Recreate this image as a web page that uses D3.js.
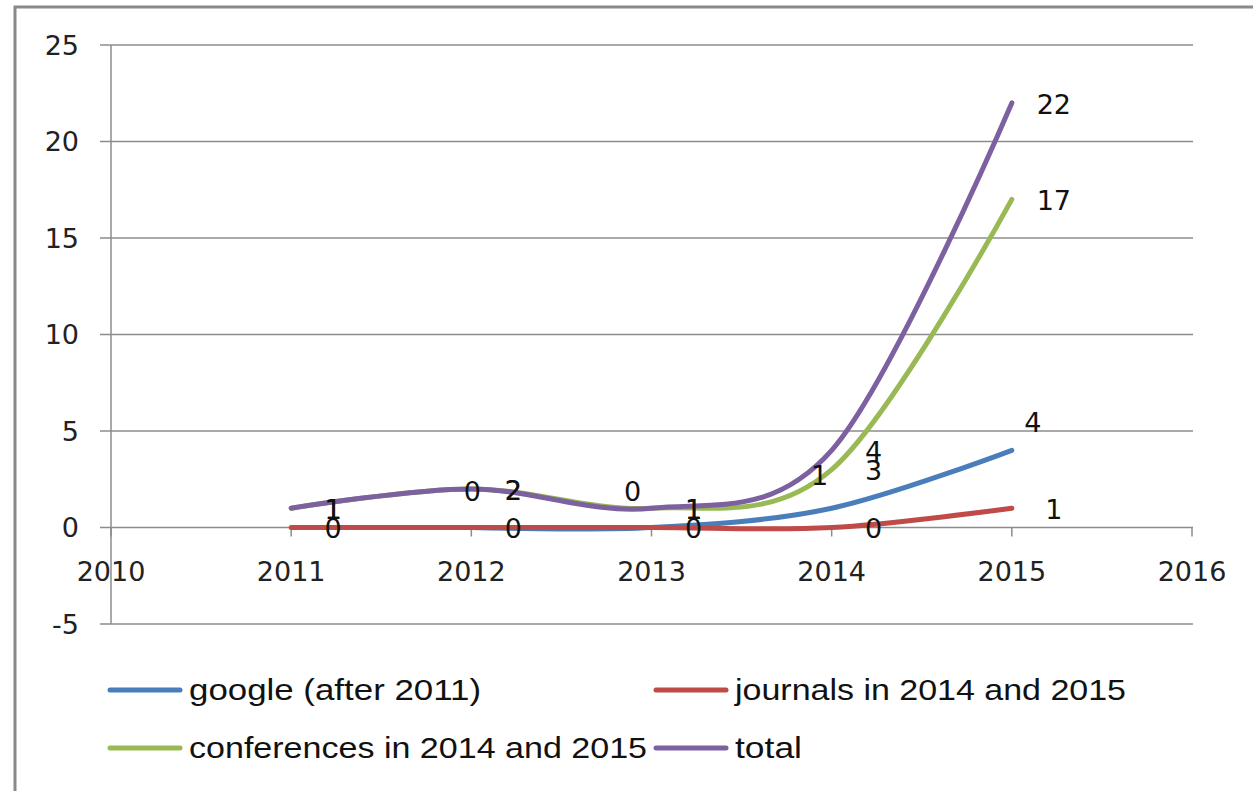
<!DOCTYPE html>
<html><head><meta charset="utf-8">
<script src="https://cdn.jsdelivr.net/npm/d3@7"></script>
<style>body{margin:0;background:#fff}svg{display:block}</style>
</head><body><svg id="c" width="1253" height="791"></svg>
<script>
const xTicks = [2010, 2011, 2012, 2013, 2014, 2015, 2016];
const yTicks = [-5, 0, 5, 10, 15, 20, 25];
const seriesNames = ["google (after 2011)", "journals in 2014 and 2015", "conferences in 2014 and 2015", "total"];
const seriesColors = ["#4a7ebb", "#be4b48", "#98b954", "#7d60a0"];
const googleYears = [2012, 2013, 2014, 2015];
const googleValues = [0, 0, 1, 4];
const journalsYears = [2011, 2012, 2013, 2014, 2015];
const journalsValues = [0, 0, 0, 0, 1];
const conferencesYears = [2011, 2012, 2013, 2014, 2015];
const conferencesValues = [1, 2, 1, 3, 17];
const totalYears = [2011, 2012, 2013, 2014, 2015];
const totalValues = [1, 2, 1, 4, 22];

// label offsets (pixel nudges, styling only)
const googleLabelOffsets = [[1,-36],[-19,-36],[-12,-33],[21,-28]];
const rightOffset = [42, 1];

const svg = d3.select("#c");
const W = 1253, H = 791;
const x = d3.scaleLinear().domain([2010, 2016]).range([111, 1192]);
const y = d3.scaleLinear().domain([-5, 25]).range([624, 45]);
const numFont = "'DejaVu Sans', sans-serif";

// frame
svg.append("path").attr("d", `M15,${H} L15,7 L${W},7`).attr("fill","none").attr("stroke","#8a8a8a").attr("stroke-width",3);

// gridlines
svg.append("g").selectAll("line").data(yTicks).join("line")
  .attr("x1", 100).attr("x2", 1193).attr("y1", d => y(d)).attr("y2", d => y(d))
  .attr("stroke", "#8c8c8c").attr("stroke-width", 1.5);
// y axis line
svg.append("line").attr("x1", x(2010)).attr("x2", x(2010)).attr("y1", y(25)).attr("y2", y(-5))
  .attr("stroke", "#8c8c8c").attr("stroke-width", 1.5);
// x ticks
svg.append("g").selectAll("line").data(xTicks).join("line")
  .attr("x1", d => x(d)).attr("x2", d => x(d)).attr("y1", y(0)).attr("y2", y(0) + 9)
  .attr("stroke", "#8c8c8c").attr("stroke-width", 1.5);
// y labels
svg.append("g").selectAll("text").data(yTicks).join("text")
  .attr("x", 79).attr("y", d => y(d)).attr("dy", "0.36em").attr("text-anchor", "end")
  .attr("font-family", numFont).attr("font-size", 27).attr("fill", "#222").text(d => d);
// x labels
svg.append("g").selectAll("text").data(xTicks).join("text")
  .attr("x", d => x(d)).attr("y", 581).attr("text-anchor", "middle")
  .attr("font-family", numFont).attr("font-size", 27).attr("fill", "#222").text(d => d);

const line = d3.line().x(d => x(d[0])).y(d => y(d[1])).curve(d3.curveCatmullRom.alpha(0));
const series = [
  {years: googleYears, values: googleValues},
  {years: journalsYears, values: journalsValues},
  {years: conferencesYears, values: conferencesValues},
  {years: totalYears, values: totalValues}
];
series.forEach((s, i) => {
  const pts = s.years.map((yr, j) => [yr, s.values[j]]);
  svg.append("path").attr("d", line(pts)).attr("fill", "none")
    .attr("stroke", seriesColors[i]).attr("stroke-width", 5).attr("stroke-linecap", "round");
});
// data labels
series.forEach((s, i) => {
  s.years.forEach((yr, j) => {
    const off = i === 0 ? googleLabelOffsets[j] : rightOffset;
    svg.append("text").attr("x", x(yr) + off[0]).attr("y", y(s.values[j]) + off[1])
      .attr("dy", "0.36em").attr("text-anchor", "middle")
      .attr("font-family", numFont).attr("font-size", 27).attr("fill", "#111").text(s.values[j]);
  });
});

// legend
const legendPos = [[108, 690], [654, 690], [108, 748], [654, 748]];
const legendLens = [292, 391, 458, 67];
seriesNames.forEach((n, i) => {
  const [lx, ly] = legendPos[i];
  svg.append("line").attr("x1", lx + 2).attr("x2", lx + 72).attr("y1", ly).attr("y2", ly)
    .attr("stroke", seriesColors[i]).attr("stroke-width", 5).attr("stroke-linecap", "round");
  svg.append("text").attr("x", lx + 81).attr("y", ly).attr("dy", "0.34em")
    .attr("font-family", "'Liberation Sans', Arial, sans-serif").attr("font-size", 29)
    .attr("textLength", legendLens[i]).attr("lengthAdjust", "spacingAndGlyphs")
    .attr("fill", "#111").text(n);
});
</script></body></html>
